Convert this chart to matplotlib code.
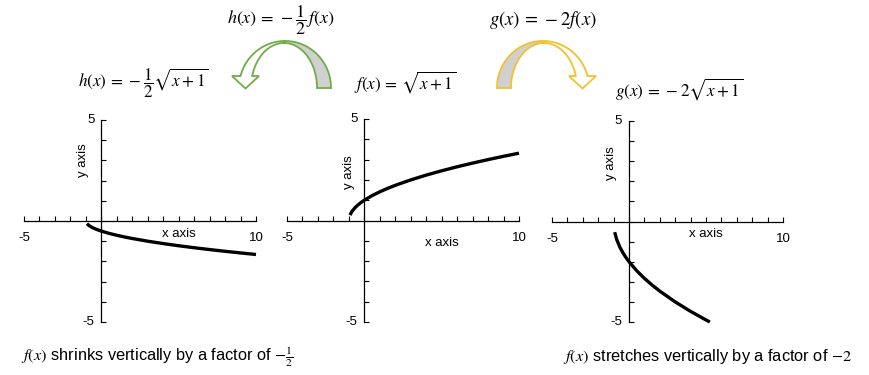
import numpy as np
import matplotlib
matplotlib.use("Agg")
import matplotlib.pyplot as plt
from matplotlib.patches import Polygon

plt.rcParams['font.family'] = ['Liberation Sans', 'DejaVu Sans']
plt.rcParams['mathtext.fontset'] = 'stix'

# ---- data ----
x_vals = [-0.93, -0.8, -0.6, -0.4, -0.2, 0, 0.5, 1, 1.5, 2, 3, 4, 5, 6, 7, 8, 9, 10]
f_vals = [0.265, 0.447, 0.632, 0.775, 0.894, 1.0, 1.225, 1.414, 1.581, 1.732,
          2.0, 2.236, 2.449, 2.646, 2.828, 3.0, 3.162, 3.317]
h_vals = [-0.132, -0.224, -0.316, -0.387, -0.447, -0.5, -0.612, -0.707, -0.791, -0.866,
          -1.0, -1.118, -1.225, -1.323, -1.414, -1.5, -1.581, -1.658]
xg_vals = [-0.93, -0.8, -0.6, -0.4, -0.2, 0, 0.5, 1, 1.5, 2, 3, 4, 5, 5.25]
g_vals = [-0.529, -0.894, -1.265, -1.549, -1.789, -2.0, -2.449, -2.828, -3.162, -3.464,
          -4.0, -4.472, -4.899, -5.0]
x_range = [-5, 10]
y_range = [-5, 5]
x_tick_labels = ["-5", "10"]
y_tick_labels = ["5", "-5"]

W, H = 869, 375
fig = plt.figure(figsize=(W / 100, H / 100), dpi=100)

def px_axes(x0, x1, ytop, ybot):
    return fig.add_axes([x0 / W, 1 - ybot / H, (x1 - x0) / W, (ybot - ytop) / H])

panels = [
    dict(box=(24, 256, 120, 322), x=x_vals, y=h_vals, xlab_y=-0.65, ylab=(-1.2, 3.0)),
    dict(box=(287, 519, 119, 322), x=x_vals, y=f_vals, xlab_y=-1.1, ylab=(-1.0, 2.4)),
    dict(box=(552, 783, 121, 322), x=xg_vals, y=g_vals, xlab_y=-0.6, ylab=(-1.2, 2.9)),
]

for p in panels:
    ax = px_axes(*p['box'])
    ax.set_xlim(*x_range)
    ax.set_ylim(*y_range)
    ax.plot(p['x'], p['y'], color='black', lw=2.4, solid_capstyle='butt', clip_on=False)
    for s in ['top', 'right']:
        ax.spines[s].set_visible(False)
    ax.spines['left'].set_position(('data', 0))
    ax.spines['bottom'].set_position(('data', 0))
    ax.spines['left'].set_linewidth(0.9)
    ax.spines['bottom'].set_linewidth(0.9)
    ax.set_xticks(np.arange(x_range[0], x_range[1] + 1, 1))
    ax.set_yticks(np.arange(y_range[0], y_range[1] + 1, 1))
    ax.tick_params(direction='in', length=3.5, width=0.8, labelbottom=False, labelleft=False,
                   top=False, right=False)
    ax.patch.set_alpha(0)
    # end labels
    ax.text(x_range[0], -0.55, x_tick_labels[0], ha='center', va='top', fontsize=9.5)
    ax.text(x_range[1], -0.55, x_tick_labels[1], ha='center', va='top', fontsize=9.5)
    ax.text(-0.45, y_range[1], y_tick_labels[0], ha='right', va='center', fontsize=9.5)
    ax.text(-0.45, y_range[0], y_tick_labels[1], ha='right', va='center', fontsize=9.5)
    ax.text(5.0, p['xlab_y'], "x axis", ha='center', va='center', fontsize=9.5)
    ax.text(p['ylab'][0], p['ylab'][1], "y axis", ha='center', va='center', rotation=90, fontsize=9.5)

# overlay for texts and arrows (pixel coordinates)
ov = fig.add_axes([0, 0, 1, 1])
ov.set_xlim(0, W)
ov.set_ylim(H, 0)
ov.axis('off')
ov.patch.set_alpha(0)

def arc(cx, rx, ry, base, a0, a1, n=60):
    t = np.radians(np.linspace(a0, a1, n))
    return np.column_stack([cx + rx * np.cos(t), base - ry * np.sin(t)])

def curved_arrow(color, mirror=None):
    base = 88
    Acx, Arx, Ary = 285, 46, 47
    Bcx, Brx, Bry = 284, 33, 45
    back = np.vstack([arc(Acx, Arx, Ary, base, 90, 0), arc(Bcx, Brx, Bry, base, 0, 90)])
    endA = np.degrees(np.arcsin((base - 76) / Ary))
    endB = np.degrees(np.arcsin((base - 76) / Bry))
    outer = arc(Acx, Arx, Ary, base, 90, 180 - endA)
    inner = arc(Bcx, Brx, Bry, base, 180 - endB, 90)
    head = np.array([[232, 76], [245.5, 88.5], [259, 76]])
    front = np.vstack([outer, head, inner])
    polys = [back, front]
    if mirror is not None:
        for P in polys:
            P[:, 0] = 2 * mirror - P[:, 0]
    ov.add_patch(Polygon(polys[0], closed=True, facecolor='#d0d0d0', edgecolor=color, lw=1.3, joinstyle='miter'))
    ov.add_patch(Polygon(polys[1], closed=True, facecolor='white', edgecolor=color, lw=1.3, joinstyle='miter'))

curved_arrow('#70ad47')
curved_arrow('#f2c12e', mirror=414)

ov.text(281, 20, r"$h(x)\,=\,-\dfrac{1}{2}\,f(x)$", ha='center', va='center', fontsize=13)
ov.text(543, 20, r"$g(x)\,=\,-2f(x)$", ha='center', va='center', fontsize=13.5)
ov.text(143, 83, r"$h(x)\,=\,-\dfrac{1}{2}\sqrt{x+1}$", ha='center', va='center', fontsize=12.3)
ov.text(405, 82, r"$f(x)\,=\,\sqrt{x+1}$", ha='center', va='center', fontsize=12.3)
ov.text(679, 89, r"$g(x)\,=\,-2\sqrt{x+1}$", ha='center', va='center', fontsize=12.3)

bfam = ['Liberation Sans', 'DejaVu Sans']
ov.text(21, 357, r"$f(x)$ shrinks vertically by a factor of $-\frac{1}{2}$", ha='left', va='center',
        fontsize=11.8, family=bfam)
ov.text(563, 357, r"$f(x)$ stretches vertically by a factor of $-2$", ha='left', va='center',
        fontsize=11.8, family=bfam)

fig.savefig("out.png", dpi=100)
